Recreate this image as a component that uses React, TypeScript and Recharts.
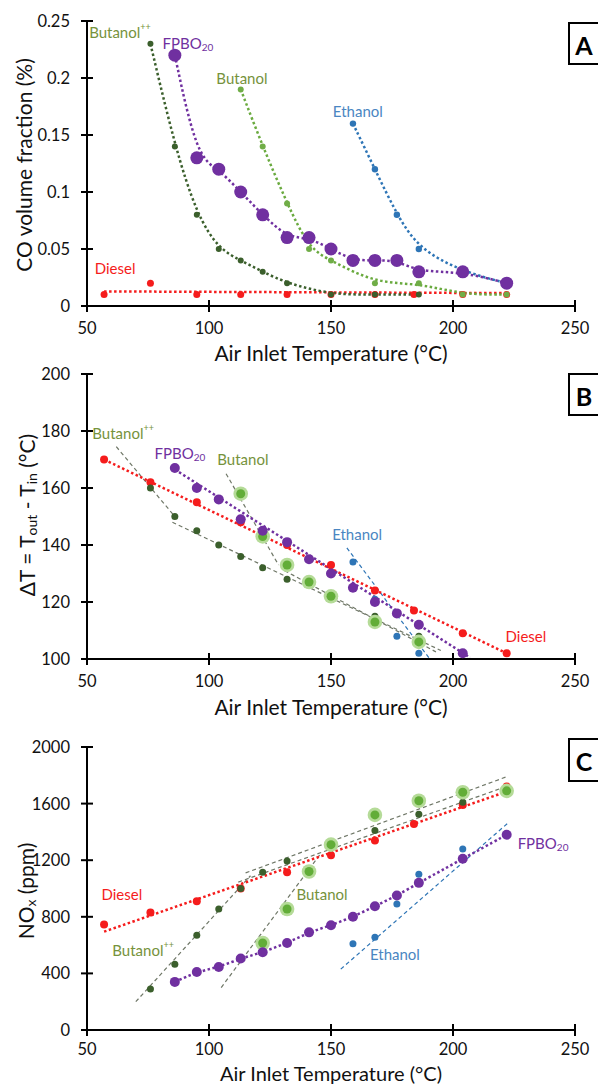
import React from "react";
import { ComposedChart, Line, Scatter, XAxis, YAxis } from "recharts";

const FONT = "Lato, 'Open Sans', sans-serif";
const RED = "#f51c1c";
const DARK_GREEN = "#3b5f2c";
const GREEN = "#70ad47";
const PURPLE = "#7030a0";
const BLUE = "#2e75b6";
const TAG_GREEN = "#76923c";
const TAG_BLUE = "#4a86c2";
const FIT_GREY = "#6f7767";

const tempTicks = [50, 100, 150, 200, 250];

// (A) CO volume fraction (%)
const coTicks = [0, 0.05, 0.1, 0.15, 0.2, 0.25];
const coDieselT = [57, 76, 95, 113, 132, 150, 168, 184, 204, 222];
const coDiesel = [0.01, 0.02, 0.01, 0.01, 0.01, 0.01, 0.01, 0.01, 0.01, 0.01];
const coDieselFit = [[57, 0.0128], [222, 0.0113]];
const coButPPT = [76, 86, 95, 104, 113, 122, 132, 150, 168, 186];
const coButPP = [0.23, 0.14, 0.08, 0.05, 0.04, 0.03, 0.02, 0.01, 0.01, 0.01];
const coButT = [113, 122, 132, 141, 150, 168, 186, 204, 222];
const coBut = [0.19, 0.14, 0.09, 0.05, 0.04, 0.02, 0.02, 0.01, 0.01];
const coFpboT = [86, 95, 104, 113, 122, 132, 141, 150, 159, 168, 177, 186, 204, 222];
const coFpbo = [0.22, 0.13, 0.12, 0.1, 0.08, 0.06, 0.06, 0.05, 0.04, 0.04, 0.04, 0.03, 0.03, 0.02];
const coEthT = [159, 168, 177, 186, 204, 222];
const coEth = [0.16, 0.12, 0.08, 0.05, 0.03, 0.02];

// (B) temperature drop across the burner (°C)
const dtTicks = [100, 120, 140, 160, 180, 200];
const dtDieselT = [57, 76, 95, 113, 132, 150, 168, 184, 204, 222];
const dtDiesel = [170, 162, 155, 148, 140, 133, 124, 117, 109, 102];
const dtDieselFit = [[57, 170], [222, 102]];
const dtButPPT = [76, 86, 95, 104, 113, 122, 132, 150, 168, 186];
const dtButPP = [160, 150, 145, 140, 136, 132, 128, 121, 115, 108];
const dtButPPFit1 = [[62, 174.5], [86, 150]];
const dtButPPFit2 = [[85, 148], [195, 103]];
const dtButT = [113, 122, 132, 141, 150, 168, 186];
const dtBut = [158, 143, 133, 127, 122, 113, 106];
const dtButFit1 = [[107, 165], [128.5, 133]];
const dtButFit2 = [[131, 131], [193, 102.5]];
const dtFpboT = [86, 95, 104, 113, 122, 132, 141, 150, 159, 168, 177, 186, 204];
const dtFpbo = [167, 160, 156, 149, 145, 141, 135, 130, 125, 120, 116, 112, 102];
const dtFpboFit = [[86, 166.5], [207, 100.5]];
const dtEthT = [159, 168, 177, 186];
const dtEth = [134, 121, 108, 102];
const dtEthFit = [[156.5, 139], [190.5, 100]];

// (C) NOx (ppm)
const noxTicks = [0, 400, 800, 1200, 1600, 2000];
const noxDieselT = [57, 76, 95, 113, 132, 150, 168, 184, 204, 222];
const noxDiesel = [745, 830, 910, 1000, 1115, 1235, 1340, 1455, 1590, 1720];
const noxDieselFit = [[57, 695], [222, 1685]];
const noxButPPT = [76, 86, 95, 104, 113, 122, 132, 168, 186, 204];
const noxButPP = [290, 465, 670, 855, 1000, 1115, 1195, 1410, 1525, 1610];
const noxButPPFit1 = [[70, 200], [117, 1090]];
const noxButPPFit2 = [[112, 1045], [222, 1722]];
const noxButT = [122, 132, 141, 150, 168, 186, 204, 222];
const noxBut = [615, 855, 1120, 1310, 1520, 1620, 1680, 1690];
const noxButFit1 = [[105, 300], [145.5, 1240]];
const noxButFit2 = [[115, 1110], [222, 1790]];
const noxFpboT = [86, 95, 104, 113, 122, 132, 141, 150, 159, 168, 177, 186, 204, 222];
const noxFpbo = [340, 410, 445, 505, 550, 615, 690, 740, 800, 875, 950, 1040, 1210, 1380];
const noxEthT = [159, 168, 177, 186, 204];
const noxEth = [610, 655, 890, 1100, 1280];
const noxEthFit = [[154, 430], [223, 1470]];

type Pt = { x: number; y: number };
const pts = (xs: number[], ys: number[]): Pt[] => xs.map((x, i) => ({ x, y: ys[i] }));
const seg = (s: number[][]): Pt[] => s.map(([x, y]) => ({ x, y }));

const dot = (r: number, fill: string) => (p: any) => <circle cx={p.cx} cy={p.cy} r={r} fill={fill} />;
const glow = (r: number) => (p: any) => (
  <g>
    <circle cx={p.cx} cy={p.cy} r={r + 2.8} fill="#b5db98" />
    <circle cx={p.cx} cy={p.cy} r={r} fill="#62ad38" />
  </g>
);

const yTick = (axisX: number) => (p: any) => (
  <g>
    <line x1={axisX - 6} x2={axisX + 6} y1={p.y} y2={p.y} stroke="#000" strokeWidth={2} />
    <text x={axisX - 17} y={p.y} textAnchor="end" dominantBaseline="central" fontSize={16.5} fontFamily={FONT} fill="#111">
      {p.payload.value}
    </text>
  </g>
);

const xTick = (axisY: number, gap: number) => (p: any) => (
  <g>
    <line x1={p.x} x2={p.x} y1={axisY - 6} y2={axisY + 6} stroke="#000" strokeWidth={2} />
    <text x={p.x} y={axisY + gap} textAnchor="middle" dominantBaseline="central" fontSize={16.5} fontFamily={FONT} fill="#111">
      {p.payload.value}
    </text>
  </g>
);

const tag = (key: string, x: number, y: number, color: string, body: React.ReactNode) => (
  <Scatter
    key={key}
    data={[{ x, y }]}
    isAnimationActive={false}
    shape={(p: any) => (
      <text x={p.cx} y={p.cy} textAnchor="middle" dominantBaseline="central" fill={color} fontFamily={FONT} fontSize={15}>
        {body}
      </text>
    )}
  />
);

const butPP = (
  <>
    Butanol<tspan fontSize={9} dy={-6}>++</tspan>
  </>
);
const fpbo = (
  <>
    FPBO<tspan fontSize={10} dy={4}>20</tspan>
  </>
);

const dotted = (key: string, data: Pt[], color: string, type: any = "linear") => (
  <Line
    key={key}
    data={data}
    dataKey="y"
    type={type}
    stroke={color}
    strokeWidth={2.5}
    strokeDasharray="2.5 2.5"
    dot={false}
    activeDot={false}
    isAnimationActive={false}
  />
);

const dashed = (key: string, data: Pt[], color: string) => (
  <Line
    key={key}
    data={data}
    dataKey="y"
    type="linear"
    stroke={color}
    strokeWidth={1.2}
    strokeDasharray="4 3"
    dot={false}
    activeDot={false}
    isAnimationActive={false}
  />
);

const axisLine = { stroke: "#000", strokeWidth: 2 };

function Panel(props: {
  top: number;
  height: number;
  marginTop: number;
  xHeight: number;
  tickGap: number;
  yDomain: [number, number];
  yTicks: number[];
  children: React.ReactNode;
}) {
  const { top, height, marginTop, xHeight, tickGap, yDomain, yTicks, children } = props;
  const axisY = height - xHeight;
  return (
    <div style={{ position: "absolute", left: 0, top, width: 598, height }}>
      <ComposedChart width={598} height={height} margin={{ top: marginTop, right: 23, bottom: 0, left: 0 }}>
        <XAxis
          type="number"
          dataKey="x"
          domain={[50, 250]}
          ticks={tempTicks}
          allowDataOverflow
          height={xHeight}
          axisLine={axisLine}
          tickLine={false}
          tick={xTick(axisY, tickGap)}
        />
        <YAxis
          type="number"
          dataKey="y"
          domain={yDomain}
          ticks={yTicks}
          allowDataOverflow
          width={87}
          axisLine={axisLine}
          tickLine={false}
          tick={yTick(87)}
        />
        {children}
      </ComposedChart>
    </div>
  );
}

const title = { fontFamily: FONT, fontSize: 21, fill: "#111" } as const;

export default function App() {
  return (
    <div style={{ position: "absolute", left: 0, top: 0, width: 598, height: 1085, background: "#fff", overflow: "hidden" }}>
      <Panel top={0} height={350} marginTop={21} xHeight={44} tickGap={22} yDomain={[0, 0.25]} yTicks={coTicks}>
        {dotted("dA", seg(coDieselFit), RED)}
        {dotted("bppA", pts(coButPPT, coButPP), DARK_GREEN, "basis")}
        {dotted("bA", pts(coButT, coBut), "#6aaa3f", "basis")}
        {dotted("eA", pts(coEthT, coEth), BLUE, "basis")}
        {dotted("fA", pts(coFpboT, coFpbo), PURPLE, "basis")}
        <Scatter data={pts(coDieselT, coDiesel)} shape={dot(3.5, RED)} isAnimationActive={false} />
        <Scatter data={pts(coButPPT, coButPP)} shape={dot(3, DARK_GREEN)} isAnimationActive={false} />
        <Scatter data={pts(coButT, coBut)} shape={dot(3, GREEN)} isAnimationActive={false} />
        <Scatter data={pts(coEthT, coEth)} shape={dot(3.2, BLUE)} isAnimationActive={false} />
        <Scatter data={pts(coFpboT, coFpbo)} shape={dot(6.5, PURPLE)} isAnimationActive={false} />
        {tag("tA1", 63.5, 0.24, TAG_GREEN, butPP)}
        {tag("tA2", 91.4, 0.2305, PURPLE, fpbo)}
        {tag("tA3", 113.5, 0.1997, TAG_GREEN, "Butanol")}
        {tag("tA4", 161, 0.171, TAG_BLUE, "Ethanol")}
        {tag("tA5", 61.5, 0.033, RED, "Diesel")}
      </Panel>

      <Panel top={350} height={360} marginTop={24} xHeight={51} tickGap={22} yDomain={[100, 200]} yTicks={dtTicks}>
        {dashed("bppB1", seg(dtButPPFit1), FIT_GREY)}
        {dashed("bppB2", seg(dtButPPFit2), FIT_GREY)}
        {dashed("bB1", seg(dtButFit1), FIT_GREY)}
        {dashed("bB2", seg(dtButFit2), FIT_GREY)}
        {dashed("eB", seg(dtEthFit), BLUE)}
        {dotted("dB", seg(dtDieselFit), RED)}
        {dotted("fB", seg(dtFpboFit), PURPLE)}
        <Scatter data={pts(dtDieselT, dtDiesel)} shape={dot(4, RED)} isAnimationActive={false} />
        <Scatter data={pts(dtButPPT, dtButPP)} shape={dot(3.5, DARK_GREEN)} isAnimationActive={false} />
        <Scatter data={pts(dtEthT, dtEth)} shape={dot(3.5, BLUE)} isAnimationActive={false} />
        <Scatter data={pts(dtButT, dtBut)} shape={glow(4.5)} isAnimationActive={false} />
        <Scatter data={pts(dtFpboT, dtFpbo)} shape={dot(5, PURPLE)} isAnimationActive={false} />
        {tag("tB1", 64.8, 179.3, TAG_GREEN, butPP)}
        {tag("tB2", 88.1, 172.3, PURPLE, fpbo)}
        {tag("tB3", 113.9, 170.2, TAG_GREEN, "Butanol")}
        {tag("tB4", 160.7, 143.9, TAG_BLUE, "Ethanol")}
        {tag("tB5", 229.9, 108.1, RED, "Diesel")}
      </Panel>

      <Panel top={710} height={375} marginTop={37} xHeight={55} tickGap={19} yDomain={[0, 2000]} yTicks={noxTicks}>
        {dashed("bppC1", seg(noxButPPFit1), FIT_GREY)}
        {dashed("bppC2", seg(noxButPPFit2), FIT_GREY)}
        {dashed("bC1", seg(noxButFit1), FIT_GREY)}
        {dashed("bC2", seg(noxButFit2), FIT_GREY)}
        {dashed("eC", seg(noxEthFit), BLUE)}
        {dotted("dC", seg(noxDieselFit), RED)}
        {dotted("fC", pts(noxFpboT, noxFpbo), PURPLE, "basis")}
        <Scatter data={pts(noxDieselT, noxDiesel)} shape={dot(4, RED)} isAnimationActive={false} />
        <Scatter data={pts(noxButPPT, noxButPP)} shape={dot(3.5, DARK_GREEN)} isAnimationActive={false} />
        <Scatter data={pts(noxEthT, noxEth)} shape={dot(3.5, BLUE)} isAnimationActive={false} />
        <Scatter data={pts(noxButT, noxBut)} shape={glow(4.5)} isAnimationActive={false} />
        <Scatter data={pts(noxFpboT, noxFpbo)} shape={dot(5, PURPLE)} isAnimationActive={false} />
        {tag("tC1", 73, 566, TAG_GREEN, butPP)}
        {tag("tC2", 236.9, 1324, PURPLE, fpbo)}
        {tag("tC3", 146.3, 963, TAG_GREEN, "Butanol")}
        {tag("tC4", 176.2, 538, TAG_BLUE, "Ethanol")}
        {tag("tC5", 64.3, 963, RED, "Diesel")}
      </Panel>

      <svg width={598} height={1085} style={{ position: "absolute", left: 0, top: 0, pointerEvents: "none" }}>
        <text x={331} y={352} textAnchor="middle" dominantBaseline="central" {...title}>
          Air Inlet Temperature (°C)
        </text>
        <text x={331} y={706} textAnchor="middle" dominantBaseline="central" {...title}>
          Air Inlet Temperature (°C)
        </text>
        <text x={331} y={1073} textAnchor="middle" dominantBaseline="central" {...title} fontSize={20}>
          Air Inlet Temperature (°C)
        </text>

        <text transform="translate(23,165) rotate(-90)" textAnchor="middle" dominantBaseline="central" {...title}>
          CO volume fraction (%)
        </text>
        <text transform="translate(26,515) rotate(-90)" textAnchor="middle" dominantBaseline="central" {...title}>
          ΔT = T<tspan fontSize={14} dy={5}>out</tspan>
          <tspan dy={-5}> - T</tspan>
          <tspan fontSize={14} dy={5}>in</tspan>
          <tspan dy={-5}> (°C)</tspan>
        </text>
        <text transform="translate(25,891) rotate(-90)" textAnchor="middle" dominantBaseline="central" {...title}>
          NO<tspan fontSize={14} dy={5}>x</tspan>
          <tspan dy={-5}>{"  (ppm)"}</tspan>
        </text>

        {[
          { y: 23, h: 41, label: "A" },
          { y: 374, h: 41, label: "B" },
          { y: 739, h: 42, label: "C" },
        ].map((b) => (
          <g key={b.label}>
            <rect x={569} y={b.y} width={40} height={b.h} fill="#fff" stroke="#000" strokeWidth={2} />
            <text x={584} y={b.y + b.h / 2 + 1} textAnchor="middle" dominantBaseline="central" fontFamily={FONT} fontWeight="bold" fontSize={25} fill="#000">
              {b.label}
            </text>
          </g>
        ))}
      </svg>
    </div>
  );
}
